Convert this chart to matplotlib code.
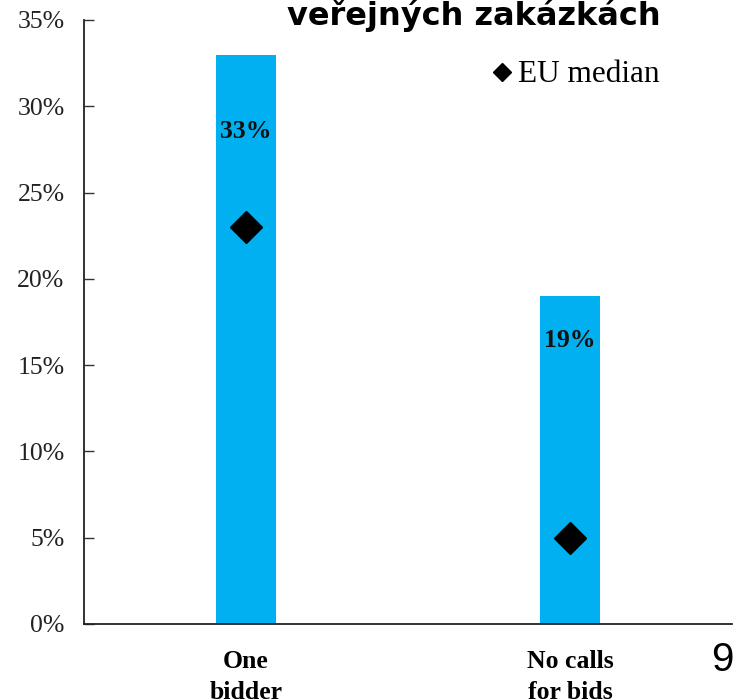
import matplotlib
matplotlib.use("Agg")
import matplotlib.pyplot as plt
from matplotlib.ticker import FuncFormatter, MultipleLocator

categories = ["One\nbidder", "No calls\nfor bids"]
values = [33, 19]
eu_median = [23, 5]
title = "veřejných zakázkách"
page_number = "9"

bar_color = "#00B0F0"

fig = plt.figure(figsize=(7.34, 7.00), dpi=100)
ax = fig.add_axes([84/734, 76/700, 648/734, 604/700])

x = list(range(len(categories)))
ax.bar(x, values, width=0.185, color=bar_color, zorder=2)
ax.plot(x, eu_median, linestyle="none", marker="D", markersize=16,
        color="black", label="EU median", zorder=3)

for xi, v in zip(x, values):
    ax.text(xi, v * 0.865, f"{v}%", ha="center", va="center",
            fontsize=18.5, fontweight="bold", family="Liberation Serif", color="#111111")

ax.set_xlim(-0.5, 1.5)
ax.set_ylim(0, 35)
ax.yaxis.set_major_locator(MultipleLocator(5))
ax.yaxis.set_major_formatter(FuncFormatter(lambda v, p: f"{int(v)}%"))
ax.tick_params(axis="y", direction="in", length=7, width=1, pad=14,
               labelsize=18.5, colors="#333333")
ax.tick_params(axis="x", length=0, pad=19)
for lab in ax.get_yticklabels():
    lab.set_family("Liberation Serif")
    lab.set_color("#222222")
ax.set_xticks(x)
ax.set_xticklabels(categories, fontsize=18.5, fontweight="bold",
                   family="Liberation Serif", linespacing=1.45)

for s in ["top", "right"]:
    ax.spines[s].set_visible(False)
for s in ["left", "bottom"]:
    ax.spines[s].set_linewidth(1.3)
    ax.spines[s].set_color("#222222")

leg = ax.legend(loc="center left", bbox_to_anchor=(493/734, 1 - 75/700),
                bbox_transform=fig.transFigure, frameon=False, numpoints=1,
                handlelength=0.6, handletextpad=0.2, borderpad=0, borderaxespad=0,
                markerscale=0.58, prop={"family": "Liberation Serif", "size": 22.5})

fig.text(474/734, 1 - 15/700, title, ha="center", va="center",
         fontsize=23, fontweight="bold", family="DejaVu Sans")
fig.text(722/734, 1 - 660/700, page_number, ha="center", va="center",
         fontsize=29, family="Liberation Sans")

fig.savefig("out.png", dpi=100)
